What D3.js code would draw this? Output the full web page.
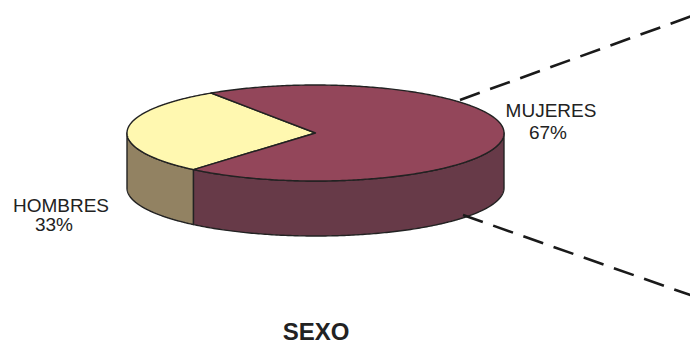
<!DOCTYPE html>
<html>
<head>
<meta charset="utf-8">
<script src="https://cdn.jsdelivr.net/npm/d3@7"></script>
<style>
  html, body { margin: 0; padding: 0; background: #fff; }
  svg { display: block; }
  text { font-family: "Liberation Sans", Arial, sans-serif; fill: #222; }
</style>
</head>
<body>
<svg id="chart" width="690" height="344"></svg>
<script>
// ---- data ----
const categories = ["HOMBRES", "MUJERES"];
const values = [33, 67];
const labels = ["HOMBRES\n33%", "MUJERES\n67%"];
const title = "SEXO";

// ---- styles ----
const topColors = ["#FFF8B0", "#93465A"];
const sideColors = ["#928262", "#673A48"];

const svg = d3.select("#chart");

// 3D geometry
const cx = 315.5, cy = 133, rx = 188.5, ry = 48, depth = 55;
const midDeg = 177;          // direction of first slice (math angle, ccw from +x)
const warpK = 7.3 * Math.PI / 180;

const total = d3.sum(values);
const pie = d3.pie().sort(null).value(d => d);
const firstSpan = values[0] / total * 2 * Math.PI;
const start = (90 - midDeg) * Math.PI / 180 - firstSpan / 2;
pie.startAngle(start).endAngle(start + 2 * Math.PI);
const arcs = pie(values);

const toMath = a => Math.PI / 2 - a;
const warp = t => t - warpK * Math.sin(2 * t);
const pt = (t, dy) => {
  const w = warp(t);
  return [cx + rx * Math.cos(w), cy - ry * Math.sin(w) + (dy || 0)];
};

function arcPoints(t0, t1, dy) {
  const n = Math.max(2, Math.ceil(Math.abs(t1 - t0) / 0.01));
  const pts = [];
  for (let i = 0; i <= n; i++) pts.push(pt(t0 + (t1 - t0) * i / n, dy));
  return pts;
}

const line = d3.line();

// ---- sides (front half) ----
const gSide = svg.append("g");
arcs.forEach((a, i) => {
  let hi = toMath(a.startAngle), lo = toMath(a.endAngle);
  for (let k = -2; k <= 2; k++) {
    const fLo = Math.PI + 2 * Math.PI * k, fHi = 2 * Math.PI + 2 * Math.PI * k;
    const s = Math.max(lo, fLo), e = Math.min(hi, fHi);
    if (e > s + 1e-6) {
      const topPts = arcPoints(s, e, 0);
      const botPts = arcPoints(e, s, depth);
      gSide.append("path")
        .attr("d", line(topPts.concat(botPts)) + "Z")
        .attr("fill", sideColors[i])
        .attr("stroke", "#222")
        .attr("stroke-width", 1.4)
        .attr("stroke-linejoin", "round");
    }
  }
});

// ---- tops ----
const gTop = svg.append("g");
arcs.forEach((a, i) => {
  const t0 = toMath(a.startAngle), t1 = toMath(a.endAngle);
  const pts = [[cx, cy]].concat(arcPoints(t0, t1, 0));
  gTop.append("path")
    .attr("d", line(pts) + "Z")
    .attr("fill", topColors[i])
    .attr("stroke", "#222")
    .attr("stroke-width", 1.4)
    .attr("stroke-linejoin", "round");
});

// ---- connector lines (pie-of-pie, second pie off canvas) ----
const connectors = [
  [[460, 100], [700, 13]],
  [[463, 215], [700, 298.5]]
];
svg.append("g").selectAll("line").data(connectors).join("line")
  .attr("x1", d => d[0][0]).attr("y1", d => d[0][1])
  .attr("x2", d => d[1][0]).attr("y2", d => d[1][1])
  .attr("stroke", "#1a1a1a")
  .attr("stroke-width", 2.6)
  .attr("stroke-dasharray", "21,11");

// ---- labels ----
const labelPos = [
  { x: 61, y: 212, lh: 18.5, dx2: -7 },
  { x: 551, y: 116.5, lh: 22.6, dx2: -3 }
];
labels.forEach((txt, i) => {
  const parts = txt.split("\n");
  const t = svg.append("text")
    .attr("text-anchor", "middle")
    .attr("font-size", 19);
  parts.forEach((p, j) => {
    t.append("tspan")
      .attr("x", labelPos[i].x + (j === 1 ? labelPos[i].dx2 : 0))
      .attr("y", labelPos[i].y + j * labelPos[i].lh)
      .text(p);
  });
});

// ---- title ----
svg.append("text")
  .attr("x", 316)
  .attr("y", 340)
  .attr("text-anchor", "middle")
  .attr("font-size", 24)
  .attr("font-weight", "bold")
  .text(title);
</script>
</body>
</html>
